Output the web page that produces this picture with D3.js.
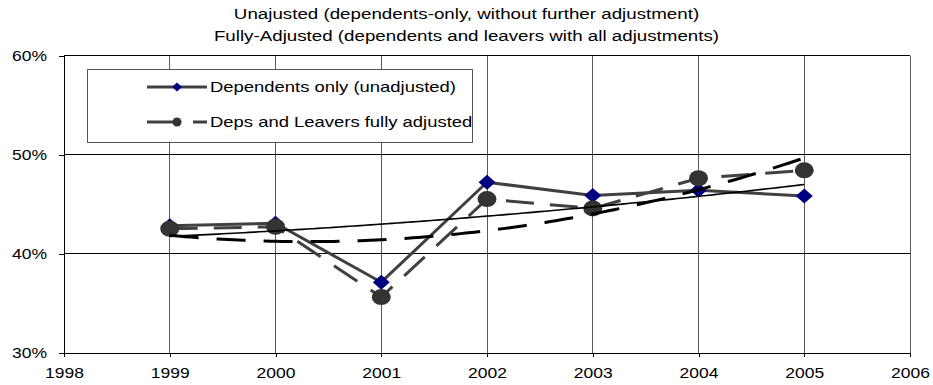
<!DOCTYPE html>
<html>
<head>
<meta charset="utf-8">
<script src="https://cdn.jsdelivr.net/npm/d3@7"></script>
<style>
  html, body { margin: 0; padding: 0; background: #fff; }
  svg { display: block; font-family: "Liberation Sans", Arial, sans-serif; }
</style>
</head>
<body>
<svg id="chart" width="933" height="385"></svg>
<script>
// Survey years and the two series (percent)
const years = [1999, 2000, 2001, 2002, 2003, 2004, 2005];
const dependentsOnly = [42.8, 43.05, 37.1, 47.2, 45.85, 46.4, 45.8];
const fullyAdjusted = [42.5, 42.7, 35.6, 45.5, 44.55, 47.6, 48.4];

const seriesNames = ["Dependents only (unadjusted)", "Deps and Leavers fully adjusted"];
const titleLines = [
  "Unajusted (dependents-only, without further adjustment)",
  "Fully-Adjusted (dependents and leavers with all adjustments)"
];
const xTickValues = [1998, 1999, 2000, 2001, 2002, 2003, 2004, 2005, 2006];
const yTickValues = [30, 40, 50, 60];

const svg = d3.select("#chart");
const W = 933;
const TEXT_STRETCH = 1.25;

const x = d3.scaleLinear().domain([1998, 2006]).range([64, 910]);
const y = d3.scaleLinear().domain([30, 60]).range([352.5, 55.5]);

// Second-order polynomial least-squares fit, as used for the trend curves
function quadFit(xs, ys) {
  const mx = d3.mean(xs);
  let s0 = xs.length, s1 = 0, s2 = 0, s3 = 0, s4 = 0, t0 = 0, t1 = 0, t2 = 0;
  xs.forEach((xv, i) => {
    const t = xv - mx, v = ys[i];
    s1 += t; s2 += t * t; s3 += t * t * t; s4 += t * t * t * t;
    t0 += v; t1 += t * v; t2 += t * t * v;
  });
  const M = [[s0, s1, s2], [s1, s2, s3], [s2, s3, s4]];
  const det = m => m[0][0] * (m[1][1] * m[2][2] - m[1][2] * m[2][1])
                 - m[0][1] * (m[1][0] * m[2][2] - m[1][2] * m[2][0])
                 + m[0][2] * (m[1][0] * m[2][1] - m[1][1] * m[2][0]);
  const D = det(M);
  const rhs = [t0, t1, t2];
  const coef = [0, 1, 2].map(k => det(M.map((row, r) => row.map((v, c) => c === k ? rhs[r] : v))) / D);
  return xv => { const t = xv - mx; return coef[0] + coef[1] * t + coef[2] * t * t; };
}

// Title
titleLines.forEach((line, i) => {
  svg.append("text")
    .attr("transform", `translate(${W / 2},${18.5 + i * 22}) scale(${TEXT_STRETCH},1)`)
    .attr("text-anchor", "middle")
    .attr("font-size", 15)
    .attr("fill", "#000")
    .text(line);
});

// Grid
const grid = svg.append("g");
grid.selectAll(".vgrid").data(xTickValues.slice(1)).join("line")
  .attr("x1", d => x(d)).attr("x2", d => x(d))
  .attr("y1", y(60)).attr("y2", y(30))
  .attr("stroke", "#5a5a5a").attr("stroke-width", 1).attr("shape-rendering", "crispEdges");
grid.selectAll(".hgrid").data(yTickValues.slice(1)).join("line")
  .attr("x1", x(1998)).attr("x2", x(2006))
  .attr("y1", d => y(d)).attr("y2", d => y(d))
  .attr("stroke", "#000").attr("stroke-width", 1).attr("shape-rendering", "crispEdges");

// Axes
const yAxis = svg.append("g")
  .attr("transform", `translate(${x(1998)},0)`)
  .call(d3.axisLeft(y).tickValues(yTickValues).tickFormat(d => d + "%").tickSize(5).tickSizeOuter(0));
const xAxis = svg.append("g")
  .attr("transform", `translate(0,${y(30)})`)
  .call(d3.axisBottom(x).tickValues(xTickValues).tickFormat(d3.format("d")).tickSize(4).tickSizeOuter(0));

[yAxis, xAxis].forEach(a => {
  a.select(".domain").attr("stroke", "#000").attr("shape-rendering", "crispEdges");
  a.selectAll(".tick line").attr("stroke", "#000").attr("shape-rendering", "crispEdges");
  a.selectAll("text").attr("font-size", 14).attr("fill", "#000")
    .attr("font-family", "Liberation Sans, Arial, sans-serif");
});
yAxis.selectAll("text").attr("x", 0).attr("dy", "0.35em")
  .attr("transform", `translate(-17,0) scale(${TEXT_STRETCH},1)`);
xAxis.selectAll("text").attr("y", 15.5).attr("dy", "0.71em")
  .attr("transform", `scale(${TEXT_STRETCH},1)`);

const plot = svg.append("g");
const line = d3.line().x(d => x(d[0])).y(d => y(d[1]));
const depPts = years.map((yr, i) => [yr, dependentsOnly[i]]);
const adjPts = years.map((yr, i) => [yr, fullyAdjusted[i]]);

const diamond = (cx, cy, hw, hh) => `M${cx},${cy - hh}L${cx + hw},${cy}L${cx},${cy + hh}L${cx - hw},${cy}Z`;

// Dependents only: solid dark line with navy diamonds
plot.append("path").datum(depPts).attr("d", line)
  .attr("fill", "none").attr("stroke", "#404040").attr("stroke-width", 3);
plot.selectAll(".dep").data(depPts).join("path")
  .attr("d", d => diamond(x(d[0]), y(d[1]), 8.5, 7.5))
  .attr("fill", "#000080");

// Fully adjusted: long-dashed dark line with dark round markers
plot.append("path").datum(adjPts).attr("d", line)
  .attr("fill", "none").attr("stroke", "#404040").attr("stroke-width", 3)
  .attr("stroke-dasharray", "28,16");
plot.selectAll(".adj").data(adjPts).join("ellipse")
  .attr("cx", d => x(d[0])).attr("cy", d => y(d[1]))
  .attr("rx", 9.5).attr("ry", 8)
  .attr("fill", "#333333");

// Polynomial trend curves for both series
const fine = d3.range(1999, 2005.0001, 0.05);
const depTrend = quadFit(years, dependentsOnly);
const adjTrend = quadFit(years, fullyAdjusted);
plot.append("path").datum(fine.map(t => [t, depTrend(t)])).attr("d", line)
  .attr("fill", "none").attr("stroke", "#000").attr("stroke-width", 1.6);
plot.append("path").datum(fine.map(t => [t, adjTrend(t)])).attr("d", line)
  .attr("fill", "none").attr("stroke", "#000").attr("stroke-width", 3)
  .attr("stroke-dasharray", "29,18");

// Legend
const legend = svg.append("g");
legend.append("rect")
  .attr("x", 87).attr("y", 69).attr("width", 385).attr("height", 73)
  .attr("fill", "#fff").attr("stroke", "#555").attr("stroke-width", 1)
  .attr("shape-rendering", "crispEdges");
const rowY = [87, 122];
legend.append("line").attr("x1", 147).attr("x2", 207).attr("y1", rowY[0]).attr("y2", rowY[0])
  .attr("stroke", "#404040").attr("stroke-width", 3);
legend.append("path").attr("d", diamond(177, rowY[0], 5, 4.5)).attr("fill", "#000080");
legend.append("line").attr("x1", 147).attr("x2", 207).attr("y1", rowY[1]).attr("y2", rowY[1])
  .attr("stroke", "#404040").attr("stroke-width", 3).attr("stroke-dasharray", "33,13");
legend.append("circle").attr("cx", 177).attr("cy", rowY[1]).attr("r", 4.5).attr("fill", "#333333");
seriesNames.forEach((name, i) => {
  legend.append("text")
    .attr("transform", `translate(210,${rowY[i]}) scale(1.23,1)`)
    .attr("dy", "0.36em")
    .attr("font-size", 15)
    .attr("fill", "#000")
    .text(name);
});
</script>
</body>
</html>
